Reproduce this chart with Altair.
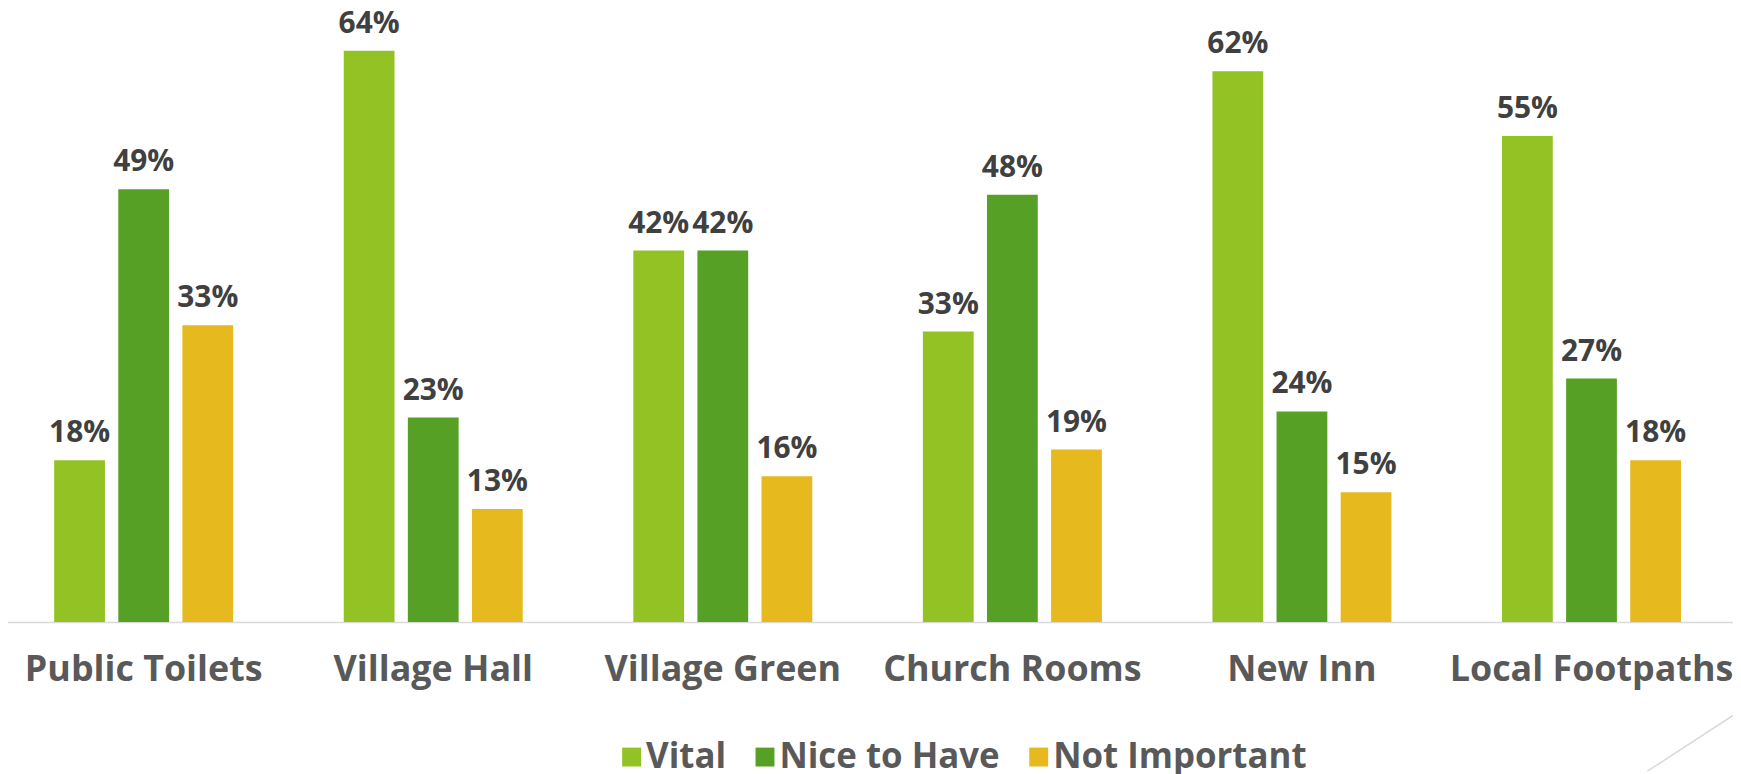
import altair as alt
import pandas as pd

categories = ["Public Toilets", "Village Hall", "Village Green", "Church Rooms", "New Inn", "Local Footpaths"]
series = ["Vital", "Nice to Have", "Not Important"]
vital = [0.182, 0.643, 0.418, 0.327, 0.620, 0.547]
nice_to_have = [0.487, 0.230, 0.418, 0.481, 0.237, 0.274]
not_important = [0.334, 0.127, 0.164, 0.194, 0.146, 0.182]
colors = ["#93C225", "#55A025", "#E6B91E"]

rows = []
for i, c in enumerate(categories):
    for s, vals in zip(series, [vital, nice_to_have, not_important]):
        rows.append({"category": c, "series": s, "value": vals[i]})
df = pd.DataFrame(rows)

FONT = "Open Sans"

x_enc = alt.X(
    "category:N",
    sort=categories,
    scale=alt.Scale(range=[-9.15, 1736.3], paddingInner=0, paddingOuter=0),
    axis=alt.Axis(
        title=None,
        labelAngle=0,
        ticks=False,
        domainColor="#d9d9d9",
        domainWidth=1.5,
        labelFont=FONT,
        labelFontSize=36,
        labelFontWeight="bold",
        labelColor="#595959",
        labelPadding=31,
        labelLimit=0,
        labelOverlap=False,
        grid=False,
    ),
)
xoff_enc = alt.XOffset(
    "series:N",
    sort=series,
    scale=alt.Scale(paddingInner=0.208, paddingOuter=0.8625),
)
y_enc = alt.Y("value:Q", scale=alt.Scale(domain=[0, 0.66], nice=False), axis=None)

bars = alt.Chart(df).mark_bar().encode(
    x=x_enc,
    xOffset=xoff_enc,
    y=y_enc,
    color=alt.Color(
        "series:N",
        sort=series,
        scale=alt.Scale(domain=series, range=colors),
        legend=alt.Legend(
            title=None,
            orient="none",
            direction="horizontal",
            legendX=609,
            legendY=707,
            symbolType="square",
            symbolSize=361,
            symbolStrokeWidth=0,
            symbolOpacity=1,
            labelFont=FONT,
            labelFontSize=35,
            labelFontWeight="bold",
            labelColor="#595959",
            labelOffset={"expr": "-3"},
            labelLimit=0,
            columnPadding=21,
            padding=0,
        ),
    ),
)

labels = alt.Chart(df).mark_text(
    dy=-18,
    baseline="alphabetic",
    font=FONT,
    fontSize=30,
    fontWeight="bold",
    color="#404040",
).encode(
    x=alt.X("category:N", sort=categories),
    xOffset=alt.XOffset("series:N", sort=series),
    y=alt.Y("value:Q"),
    text=alt.Text("value:Q", format=".0%"),
)

deco = alt.Chart(pd.DataFrame({"d": [0]})).mark_rule(color="#d9d9d9", strokeWidth=1.5).encode(
    x=alt.value(1647), x2=alt.value(1733), y=alt.value(739), y2=alt.value(683)
)

chart = alt.layer(bars, labels, deco).properties(
    width=1725,
    height=589,
    autosize=alt.AutoSizeParams(type="none"),
    padding={"left": 0, "top": 26, "right": 8, "bottom": 151},
).configure_view(stroke=None)

chart.save("out.html", embed_options={"renderer": "svg", "actions": False})
